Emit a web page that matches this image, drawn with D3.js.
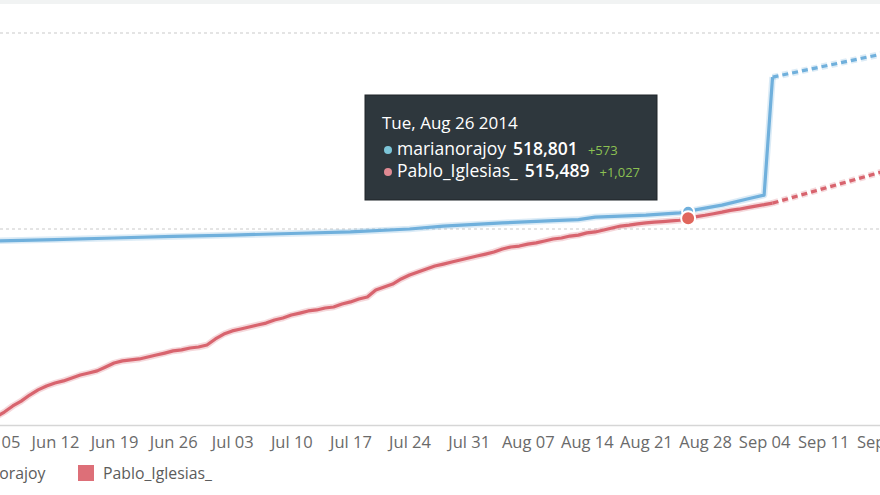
<!DOCTYPE html>
<html><head><meta charset="utf-8">
<script src="https://cdn.jsdelivr.net/npm/d3@7"></script>
<style>
html,body{margin:0;padding:0;background:#fff;}
svg{display:block;font-family:"Open Sans",sans-serif;}
</style></head>
<body>
<svg id="chart" width="880" height="495"></svg>
<script>
// ---- data ----
const seriesNames = ["marianorajoy", "Pablo_Iglesias_"];
const tickLabels = ["Jun 05","Jun 12","Jun 19","Jun 26","Jul 03","Jul 10","Jul 17","Jul 24","Jul 31","Aug 07","Aug 14","Aug 21","Aug 28","Sep 04","Sep 11","Sep 18"];
const yGridValues = [510000, 610000];

const rajoyDates = ["2014-06-05","2014-06-12","2014-06-19","2014-06-26","2014-07-03","2014-07-10","2014-07-17","2014-07-24","2014-07-28","2014-08-04","2014-08-10","2014-08-13","2014-08-15","2014-08-21","2014-08-25","2014-08-26","2014-08-27","2014-08-30","2014-09-02","2014-09-04","2014-09-05"];
const rajoyValues = [503900,504600,505400,506200,506900,507700,508500,510000,511500,513100,514300,514800,516100,517100,518228,518801,519900,522200,525300,527300,587500];
const rajoyProjDates = ["2014-09-05","2014-09-18"];
const rajoyProjValues = [587500,599300];

const pabloStart = "2014-06-05"; // one value per day
const pabloValues = [414100,416600,419700,422200,425300,427900,429900,431400,432500,434000,
435500,436500,437600,439600,441600,442700,443200,443700,444700,445700,
446700,447800,448300,449300,449800,450800,453900,456400,458000,459000,
460000,461000,462000,463600,464600,466100,467100,468200,468700,469700,
470200,471700,472800,474300,475300,478900,480400,481900,484500,486500,
488100,489600,491100,492100,493200,494200,495200,496200,497200,498300,
499800,500800,501300,502300,502900,503900,504900,505400,506400,506900,
508000,508500,509500,510500,511500,512000,512600,513100,513500,513800,
514100,514462,515489,516300,517000,517800,518600,519500,520100,520900,
521700,522400,523200];
const pabloProjDates = ["2014-09-05","2014-09-18"];
const pabloProjValues = [523200,539200];

const tooltipDate = "2014-08-26";
const tooltipTitle = "Tue, Aug 26 2014";
const tooltipValues = ["518,801", "515,489"];
const tooltipChanges = ["+573", "+1,027"];

// ---- setup ----
const colors = {blue:"#70b0dc", red:"#d8646e", redDot:"#e0665c"};
const parse = d3.utcParse("%Y-%m-%d");
const tickParse = d3.utcParse("%b %d %Y");
const svg = d3.select("#chart");

const x = d3.scaleUtc()
  .domain([parse("2014-06-05"), parse("2014-09-18")])
  .range([-4.1, 882.3]);
const y = d3.scaleLinear().domain([410000, 610000]).range([425, 33]);

// top band
svg.append("rect").attr("x",0).attr("y",0).attr("width",880).attr("height",4).attr("fill","#f1f3f3");

// gridlines
svg.append("g").selectAll("line").data(yGridValues).join("line")
  .attr("x1",0).attr("x2",880)
  .attr("y1",d=>y(d)).attr("y2",d=>y(d))
  .attr("stroke","#c9c9c9").attr("stroke-width",1).attr("stroke-dasharray","3,3");

// x axis
const tickDates = tickLabels.map(t => tickParse(t + " 2014"));
const xAxis = d3.axisBottom(x).tickValues(tickDates).tickFormat(d3.utcFormat("%b %d")).tickSize(0).tickPadding(11);
const gx = svg.append("g").attr("transform","translate(0,425)").call(xAxis);
gx.select(".domain").attr("stroke","#d6d6d6").attr("stroke-width",1.5);
gx.selectAll("text").attr("fill","#6a6a6a").attr("font-size",16.5).attr("font-family","'Open Sans',sans-serif");

// series
const rajoy = rajoyDates.map((d,i)=>({date:parse(d), value:rajoyValues[i]}));
const rajoyProj = rajoyProjDates.map((d,i)=>({date:parse(d), value:rajoyProjValues[i]}));
const p0 = parse(pabloStart);
const pablo = pabloValues.map((v,i)=>({date:d3.utcDay.offset(p0,i), value:v}));
const pabloProj = pabloProjDates.map((d,i)=>({date:parse(d), value:pabloProjValues[i]}));

const line = d3.line().x(d=>x(d.date)).y(d=>y(d.value));

function drawLine(data, color, dashed){
  svg.append("path").datum(data).attr("d",line)
    .attr("fill","none").attr("stroke",color).attr("stroke-opacity",0.25)
    .attr("stroke-width",6.5).attr("stroke-linejoin","round")
    .attr("stroke-dasharray", dashed ? "6,4" : null);
  svg.append("path").datum(data).attr("d",line)
    .attr("fill","none").attr("stroke",color)
    .attr("stroke-width",3.2).attr("stroke-linejoin","round")
    .attr("stroke-dasharray", dashed ? "6,4" : null);
}
drawLine(rajoy, colors.blue, false);
drawLine(rajoyProj, colors.blue, true);
drawLine(pablo, colors.red, false);
drawLine(pabloProj, colors.red, true);

// hover markers
const td = parse(tooltipDate);
const rv = rajoy.find(d=>+d.date===+td).value;
const pv = pablo.find(d=>+d.date===+td).value;
svg.append("circle").attr("cx",x(td)).attr("cy",y(rv)).attr("r",6)
  .attr("fill",colors.blue).attr("stroke","#fff").attr("stroke-width",2);
svg.append("circle").attr("cx",x(td)).attr("cy",y(pv)).attr("r",7)
  .attr("fill",colors.redDot).attr("stroke","#fff").attr("stroke-width",2);

// tooltip
const tt = svg.append("g").attr("transform","translate(365,95)");
tt.append("rect").attr("width",292).attr("height",105).attr("fill","#2e373d").attr("stroke","#1f2529");
tt.append("text").attr("x",17).attr("y",34).attr("fill","#fff").attr("font-size",17).text(tooltipTitle);
const rowColors = ["#7cc5d8","#e08a93"];
seriesNames.forEach((name,i)=>{
  const yy = 60 + i*22;
  tt.append("circle").attr("cx",23).attr("cy",yy-5).attr("r",4).attr("fill",rowColors[i]);
  const t = tt.append("text").attr("x",32).attr("y",yy).attr("fill","#fff").attr("font-size",17.5);
  t.append("tspan").text(name);
  t.append("tspan").attr("dx",7).attr("font-weight","600").text(tooltipValues[i]);
  t.append("tspan").attr("dx",10).attr("font-size",13).attr("fill","#8cc152").text(tooltipChanges[i]);
});

// legend
const legendColors = [colors.blue, "#dd6f78"];
const legendX = [-78, 78];
seriesNames.forEach((name,i)=>{
  const g = svg.append("g").attr("transform",`translate(${legendX[i]},465)`);
  g.append("rect").attr("width",16).attr("height",16).attr("fill",legendColors[i]);
  g.append("text").attr("x",25).attr("y",13.5).attr("fill","#5c5c5c").attr("font-size",15.8).text(name);
});
</script>
</body></html>
